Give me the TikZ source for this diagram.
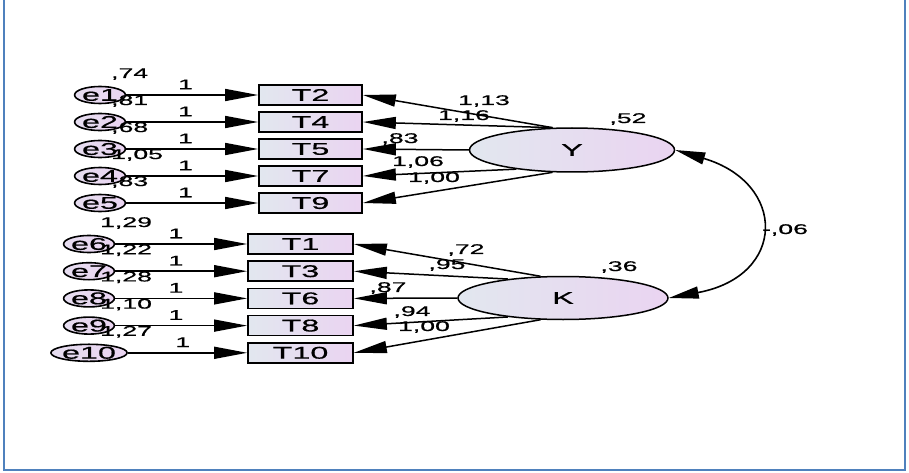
\documentclass[tikz,border=0pt]{standalone}
\usepackage{fontspec}
\setmainfont{Liberation Sans}[FakeStretch=1.9, FakeBold=0.7]
\usetikzlibrary{arrows.meta, shapes.geometric, calc}

\definecolor{frameblue}{RGB}{79,129,189}
\definecolor{shadeL}{RGB}{226,231,239}
\definecolor{shadeR}{RGB}{234,212,241}

\tikzset{
	obs/.style={draw, line width=1.7pt, minimum width=103pt, minimum height=20pt, inner sep=0pt, left color=shadeL, right color=shadeR, font=\fontsize{17pt}{18pt}\selectfont},
	err/.style={ellipse, draw, line width=1.6pt, minimum width=40pt, minimum height=17pt, inner sep=0pt, left color=shadeL!50!shadeR, right color=shadeR, font=\fontsize{17pt}{18pt}\selectfont},
	lat/.style={ellipse, draw, line width=1.5pt, minimum width=205pt, minimum height=44pt, inner sep=0pt, left color=shadeL, right color=shadeR, font=\fontsize{17pt}{18pt}\selectfont},
	load/.style={-{Triangle[length=33pt, width=12pt]}, line width=1.5pt},
	cov/.style={{Triangle[length=30pt, width=12pt]}-{Triangle[length=30pt, width=12pt]}, line width=1.6pt},
	num/.style={inner sep=0pt, font=\fontsize{14pt}{15pt}\selectfont},
}

\begin{document}
\begin{tikzpicture}[x=1pt, y=-1pt]
	\def\dy{27}
	\useasboundingbox (0,0) rectangle (909,473);
	\draw[frameblue, line width=2pt] (4,-5) -- (4,470) -- (905,470) -- (905,-5);

	% latent variables
	\node[lat] (Y) at (572,150) {Y};
	\node[lat, minimum width=210pt, minimum height=43pt] (K) at (563,298) {K};
	\node[num] at (628,119) {,52};
	\node[num] at (619,267) {,36};

	% first block
	\foreach \i/\t/\v [count=\k from 0] in {1/T2/{,74}, 2/T4/{,81}, 3/T5/{,68}, 4/T7/{1,05}, 5/T9/{,83}} {
		\node[err] (e\i) at (100,{95+\dy*\k}) {e\i};
		\node[obs] (\t) at (310.5,{95+\dy*\k}) {\t};
		\draw[load] (e\i) -- node[num, above=5pt, pos=0.45] {1} (\t);
		\node[num, anchor=base west] at ($(e\i)+(11,-17)$) {\v};
	}

	% second block
	\foreach \i/\t/\v [count=\k from 0] in {6/T1/{1,29}, 7/T3/{1,22}, 8/T6/{1,28}, 9/T8/{1,10}, 10/T10/{1,27}} {
		\node[err] (e\i) at (89,{244+27.2*\k}) {e\i};
		\node[obs, minimum width=105pt] (\t) at (300.5,{244+27.2*\k}) {\t};
		\draw[load] (e\i) -- node[num, above=5pt, pos=0.46] {1} (\t);
		\node[num, anchor=base west] at ($(e\i)+(11,-17)$) {\v};
	}

	% loadings
	\foreach \t/\a/\v/\lx/\ly in {T2/131/{1,13}/484/101, T4/131/{1,16}/464/116, T5/180/{,83}/400/139, T7/199/{1,06}/418/162, T9/229/{1,00}/434/178} {
		\draw[load] (Y.\a) -- (\t.east);
		\node[num] at (\lx,\ly) {\v};
	}
	\foreach \t/\a/\v/\lx/\ly in {T1/136/{,72}/466/250, T3/161/{,95}/447/265, T6/180/{,87}/388/288, T8/199/{,94}/412/312, T10/224/{1,00}/424/327} {
		\draw[load] (K.\a) -- (\t.east);
		\node[num] at (\lx,\ly) {\v};
	}

	% covariance
	\draw[cov] (Y.east) .. controls (787,183) and (787,276) .. (K.east);
	\node[num] at (785,230) {-,06};
\end{tikzpicture}
\end{document}
